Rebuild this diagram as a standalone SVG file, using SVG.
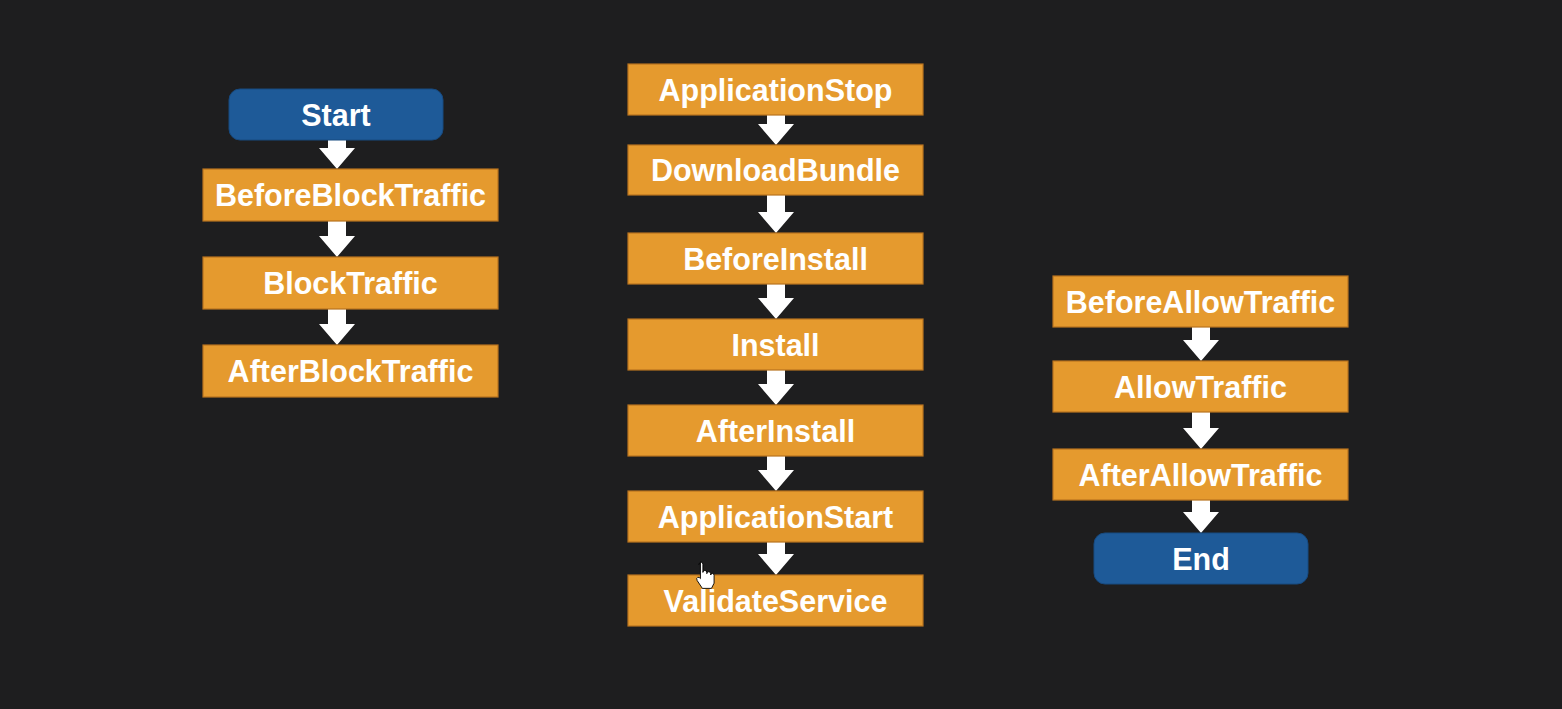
<svg xmlns="http://www.w3.org/2000/svg" width="1562" height="709" viewBox="0 0 1562 709">
  <style>
    .step { fill: #e59a2e; stroke: #b8731f; stroke-width: 1.2; }
    .term { fill: #1e5a98; stroke: #174a80; stroke-width: 1; }
    .label { fill: #ffffff; font-family: "Liberation Sans", Arial, Helvetica, sans-serif; font-weight: bold; font-size: 30.5px; text-anchor: middle; }
    .arrow { fill: #ffffff; }
  </style>
  <rect x="0" y="0" width="1562" height="709" fill="#1e1e1f"/>

  <!-- connectors: block arrows between consecutive stages -->
  <g id="connectors">
    <path class="arrow" d="M328,140 H346 V148 H355 L337,169 L319,148 H328 Z"/>
    <path class="arrow" d="M328,221 H346 V236 H355 L337,257 L319,236 H328 Z"/>
    <path class="arrow" d="M328,309 H346 V324 H355 L337,345 L319,324 H328 Z"/>

    <path class="arrow" d="M767,115 H785 V124 H794 L776,145 L758,124 H767 Z"/>
    <path class="arrow" d="M767,195 H785 V212 H794 L776,233 L758,212 H767 Z"/>
    <path class="arrow" d="M767,284 H785 V298 H794 L776,319 L758,298 H767 Z"/>
    <path class="arrow" d="M767,370 H785 V384 H794 L776,405 L758,384 H767 Z"/>
    <path class="arrow" d="M767,456 H785 V470 H794 L776,491 L758,470 H767 Z"/>
    <path class="arrow" d="M767,542 H785 V554 H794 L776,575 L758,554 H767 Z"/>

    <path class="arrow" d="M1192,327 H1210 V340 H1219 L1201,361 L1183,340 H1192 Z"/>
    <path class="arrow" d="M1192,412 H1210 V428 H1219 L1201,449 L1183,428 H1192 Z"/>
    <path class="arrow" d="M1192,500 H1210 V512 H1219 L1201,533 L1183,512 H1192 Z"/>
  </g>

  <!-- left column: traffic blocking -->
  <g id="start">
    <rect class="term" x="229" y="89" width="214" height="51" rx="11"/>
    <text class="label" x="336" y="126">Start</text>
  </g>
  <g id="before-block-traffic">
    <rect class="step" x="203" y="169" width="295" height="52"/>
    <text class="label" x="350.5" y="206">BeforeBlockTraffic</text>
  </g>
  <g id="block-traffic">
    <rect class="step" x="203" y="257" width="295" height="52"/>
    <text class="label" x="350.5" y="294">BlockTraffic</text>
  </g>
  <g id="after-block-traffic">
    <rect class="step" x="203" y="345" width="295" height="52"/>
    <text class="label" x="350.5" y="382">AfterBlockTraffic</text>
  </g>

  <!-- middle column: install lifecycle -->
  <g id="application-stop">
    <rect class="step" x="628" y="64" width="295" height="51"/>
    <text class="label" x="775.5" y="101">ApplicationStop</text>
  </g>
  <g id="download-bundle">
    <rect class="step" x="628" y="145" width="295" height="50"/>
    <text class="label" x="775.5" y="181">DownloadBundle</text>
  </g>
  <g id="before-install">
    <rect class="step" x="628" y="233" width="295" height="51"/>
    <text class="label" x="775.5" y="270">BeforeInstall</text>
  </g>
  <g id="install">
    <rect class="step" x="628" y="319" width="295" height="51"/>
    <text class="label" x="775.5" y="356">Install</text>
  </g>
  <g id="after-install">
    <rect class="step" x="628" y="405" width="295" height="51"/>
    <text class="label" x="775.5" y="442">AfterInstall</text>
  </g>
  <g id="application-start">
    <rect class="step" x="628" y="491" width="295" height="51"/>
    <text class="label" x="775.5" y="528">ApplicationStart</text>
  </g>
  <g id="validate-service">
    <rect class="step" x="628" y="575" width="295" height="51"/>
    <text class="label" x="775.5" y="612">ValidateService</text>
  </g>

  <!-- right column: traffic allowing -->
  <g id="before-allow-traffic">
    <rect class="step" x="1053" y="276" width="295" height="51"/>
    <text class="label" x="1200.5" y="313">BeforeAllowTraffic</text>
  </g>
  <g id="allow-traffic">
    <rect class="step" x="1053" y="361" width="295" height="51"/>
    <text class="label" x="1200.5" y="398">AllowTraffic</text>
  </g>
  <g id="after-allow-traffic">
    <rect class="step" x="1053" y="449" width="295" height="51"/>
    <text class="label" x="1200.5" y="486">AfterAllowTraffic</text>
  </g>
  <g id="end">
    <rect class="term" x="1094" y="533" width="214" height="51" rx="11"/>
    <text class="label" x="1201" y="570">End</text>
  </g>

  <!-- pointer cursor -->
  <g transform="translate(699,562) scale(1.3) translate(-701,-563)">
    <path d="M701,565 q0,-2 1.5,-2 q1.5,0 1.5,2 v6 q0,-1.5 1.5,-1.5 q1.5,0 1.5,1.5 v1 q0,-1.5 1.5,-1.5 q1.5,0 1.5,1.5 v1 q0,-1.2 1.3,-1.2 q1.3,0 1.3,1.5 v6 l-2,4 h-7 l-4,-6 q-1,-2 0.5,-2.5 q1.2,-0.3 2,1 v-12.5 Z" fill="#ffffff" stroke="#000000" stroke-width="0.7"/>
  </g>
</svg>
